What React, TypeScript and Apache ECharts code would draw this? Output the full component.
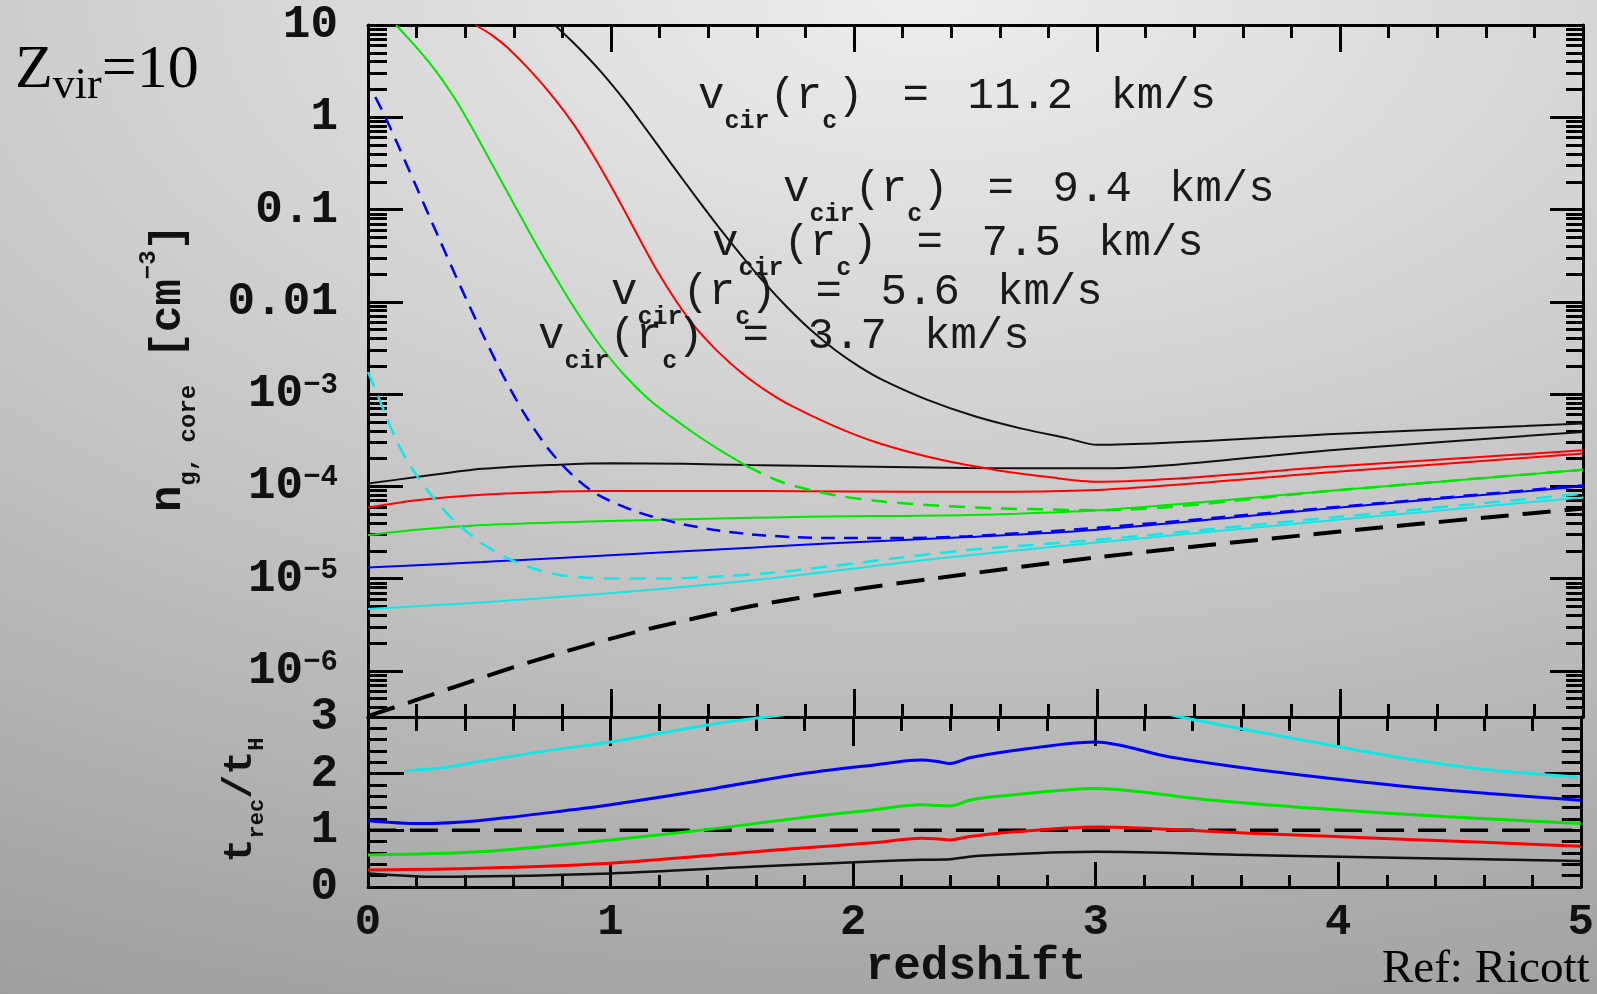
import React, { useEffect, useRef } from "react";
import * as echarts from "echarts";

// ---------------- tick labels ----------------
const REDSHIFT_LABELS = ["0", "1", "2", "3", "4", "5"];
const LOG_N_MAJOR = [-6, -5, -4, -3, -2, -1, 0, 1];
const LOG_N_LABELS = ["10{sup|−6}", "10{sup|−5}", "10{sup|−4}", "10{sup|−3}", "0.01", "0.1", "1", "10"];
const TREC_LABELS = ["0", "1", "2", "3"];

// ---------------- upper panel: log10 n_g,core [cm^-3] vs redshift ----------------
// v_cir = 11.2 km/s
const zBlackHi = [0.768, 0.86, 0.96, 1.06, 1.153, 1.25, 1.345, 1.44, 1.537, 1.63, 1.729, 1.82, 1.921, 2.02, 2.113, 2.3, 2.497, 2.7, 2.88, 3.0, 4.0, 5.0];
const logBlackHi = [1.0, 0.77, 0.49, 0.17, -0.16, -0.51, -0.85, -1.18, -1.5, -1.79, -2.07, -2.3, -2.52, -2.7, -2.84, -3.06, -3.24, -3.38, -3.48, -3.55, -3.43, -3.32];
const zBlackLo = [0, 0.2, 0.47, 0.79, 1.0, 1.3, 1.575, 2.0, 2.47, 3.0, 4.0, 5.0];
const logBlackLo = [-3.97, -3.9, -3.81, -3.765, -3.75, -3.755, -3.77, -3.785, -3.8, -3.805, -3.6, -3.41];
// v_cir = 9.4 km/s
const zRedHi = [0.442, 0.51, 0.576, 0.67, 0.768, 0.85, 0.922, 0.99, 1.057, 1.12, 1.191, 1.27, 1.345, 1.44, 1.537, 1.63, 1.729, 1.921, 2.1, 2.354, 2.6, 2.8, 3.0, 4.0, 5.0];
const logRedHi = [1.0, 0.89, 0.75, 0.5, 0.2, -0.09, -0.39, -0.7, -1.02, -1.33, -1.67, -2.0, -2.27, -2.54, -2.77, -2.95, -3.11, -3.35, -3.53, -3.71, -3.83, -3.9, -3.95, -3.78, -3.61];
const zRedLo = [0, 0.2, 0.47, 0.945, 1.575, 2.0, 2.47, 3.0, 4.0, 5.0];
const logRedLo = [-4.23, -4.15, -4.09, -4.05, -4.05, -4.055, -4.06, -4.04, -3.84, -3.645];
// v_cir = 7.5 km/s
const zGreenHi = [0.115, 0.192, 0.25, 0.307, 0.365, 0.423, 0.48, 0.538, 0.586, 0.634, 0.68, 0.73, 0.78, 0.826, 0.89, 0.96, 1.05, 1.153, 1.25, 1.345, 1.45, 1.559];
const logGreenHi = [1.0, 0.78, 0.6, 0.4, 0.17, -0.09, -0.36, -0.64, -0.87, -1.1, -1.32, -1.55, -1.77, -1.97, -2.23, -2.49, -2.78, -3.05, -3.25, -3.43, -3.61, -3.78];
const zGreenHiDash = [1.559, 1.7, 1.89, 2.1, 2.354, 2.6, 2.8, 3.0, 4.0, 5.0];
const logGreenHiDash = [-3.78, -3.95, -4.08, -4.16, -4.21, -4.24, -4.25, -4.26, -4.04, -3.82];
const zGreenLo = [0, 0.2, 0.47, 0.8, 1.26, 1.8, 2.47, 3.0, 4.0, 5.0];
const logGreenLo = [-4.53, -4.47, -4.42, -4.39, -4.36, -4.33, -4.31, -4.26, -4.04, -3.82];
// v_cir = 5.6 km/s
const zBlueDash = [0.03, 0.07, 0.12, 0.19, 0.29, 0.38, 0.47, 0.56, 0.65, 0.75, 0.85, 0.945, 1.1, 1.26, 1.42, 1.575, 1.75, 1.9, 2.2, 2.47, 3.0, 4.0, 5.0];
const logBlueDash = [0.22, 0.01, -0.28, -0.7, -1.3, -1.83, -2.34, -2.82, -3.24, -3.62, -3.9, -4.09, -4.27, -4.39, -4.47, -4.52, -4.55, -4.56, -4.56, -4.54, -4.45, -4.22, -3.99];
const zBlueLo = [0, 0.47, 1.26, 1.89, 2.47, 3.0, 4.0, 5.0];
const logBlueLo = [-4.88, -4.82, -4.71, -4.62, -4.55, -4.47, -4.23, -4.0];
// v_cir = 3.7 km/s
const zCyanDash = [0, 0.035, 0.071, 0.11, 0.152, 0.205, 0.28, 0.362, 0.47, 0.583, 0.68, 0.787, 0.9, 1.02, 1.2, 1.42, 1.65, 1.89, 2.2, 2.47, 3.0, 4.0, 5.0];
const logCyanDash = [-2.76, -2.98, -3.22, -3.46, -3.68, -3.9, -4.16, -4.39, -4.62, -4.79, -4.89, -4.96, -4.99, -5.0, -5.0, -4.98, -4.94, -4.87, -4.77, -4.69, -4.58, -4.33, -4.08];
const zCyanLo = [0, 0.787, 1.575, 2.354, 3.0, 4.0, 5.0];
const logCyanLo = [-5.33, -5.2, -5.02, -4.78, -4.61, -4.36, -4.12];
// mean density (long dashed)
const zMeanDash = [0, 0.205, 0.394, 0.6, 0.787, 1.0, 1.18, 1.575, 1.97, 2.354, 3.0, 4.0, 5.0];
const logMeanDash = [-6.49, -6.31, -6.14, -5.96, -5.81, -5.65, -5.53, -5.3, -5.13, -4.99, -4.77, -4.49, -4.24];

// ---------------- lower panel: t_rec / t_H vs redshift ----------------
const zCyanB = [0.152, 0.3, 0.455, 0.7, 1.0, 1.2, 1.4, 1.6, 1.8, 2.2, 2.6, 3.0, 3.34, 3.629, 3.958, 4.287, 4.616, 4.986];
const tCyanB = [2.05, 2.1, 2.21, 2.38, 2.56, 2.71, 2.86, 2.98, 3.08, 3.2, 3.28, 3.36, 3.01, 2.77, 2.51, 2.26, 2.07, 1.94];
const zBlueB = [0, 0.21, 0.455, 0.78, 1.0, 1.43, 1.76, 2.08, 2.28, 2.34, 2.4, 2.48, 2.6, 3.0, 3.3, 3.63, 3.96, 4.29, 4.62, 5.0];
const tBlueB = [1.17, 1.12, 1.17, 1.33, 1.45, 1.74, 1.98, 2.15, 2.24, 2.22, 2.18, 2.28, 2.37, 2.56, 2.3, 2.09, 1.92, 1.77, 1.65, 1.53];
const zGreenB = [0, 0.455, 1.0, 1.43, 1.76, 2.08, 2.28, 2.34, 2.4, 2.48, 2.6, 3.0, 3.47, 3.96, 4.45, 5.0];
const tGreenB = [0.565, 0.62, 0.83, 1.03, 1.21, 1.36, 1.45, 1.44, 1.43, 1.53, 1.6, 1.74, 1.535, 1.37, 1.24, 1.12];
const zRedB = [0, 0.455, 1.0, 1.43, 1.76, 2.08, 2.28, 2.34, 2.4, 2.48, 2.6, 3.0, 3.63, 4.29, 5.0];
const tRedB = [0.3, 0.33, 0.42, 0.565, 0.68, 0.78, 0.86, 0.85, 0.83, 0.89, 0.95, 1.06, 0.95, 0.84, 0.72];
const zBlackB = [0, 0.29, 1.0, 1.6, 2.08, 2.28, 2.4, 2.52, 3.0, 3.63, 4.29, 5.0];
const tBlackB = [0.24, 0.18, 0.24, 0.36, 0.45, 0.48, 0.49, 0.55, 0.62, 0.565, 0.51, 0.46];
const zUnity = [0, 5];
const tUnity = [1, 1];

// ---------------- annotations ----------------
const VCIR_LABELS = ["11.2", "9.4", "7.5", "5.6", "3.7"];

const MONO = '"Liberation Mono", "DejaVu Sans Mono", monospace';
const SERIF = '"Liberation Serif", "DejaVu Serif", serif';
const INK = "#111";

const RED = "#ff0000";
const GREEN = "#00e600";
const BLUE = "#0000ff";
const CYAN = "#14e6e6";
const BLACK = "#111111";

function pairs(xs: number[], ys: number[]) {
  return xs.map((x, i) => [x, ys[i]]);
}

function buildOption() {
  const minorLog: number[] = [];
  for (let d = -7; d <= 0; d++) {
    for (let k = 2; k <= 9; k++) {
      const v = d + Math.log10(k);
      if (v > -6.5 && v < 1) minorLog.push(v);
    }
  }
  const axLine = { show: true, onZero: false, lineStyle: { color: "#000", width: 3 } };
  const tickStyle = { color: "#000", width: 3 };
  const labelBase = {
    fontFamily: MONO,
    fontWeight: "bold" as const,
    fontSize: 46,
    color: INK,
  };

  const xAx = (gridIndex: number, position: string, major: number, minor: number, showLabel: boolean) => ({
    type: "value",
    gridIndex,
    position,
    min: 0,
    max: 5,
    interval: 1,
    axisLine: axLine,
    axisTick: { show: true, inside: true, length: major, lineStyle: tickStyle },
    minorTick: { show: true, splitNumber: 5, length: minor, lineStyle: tickStyle },
    splitLine: { show: false },
    minorSplitLine: { show: false },
    axisLabel: showLabel
      ? { ...labelBase, fontSize: 44, margin: 13, formatter: (v: number) => REDSHIFT_LABELS[Math.round(v)] ?? "" }
      : { show: false },
  });

  const logAx = (position: string, ticks: number[], len: number, showLabel: boolean, showLine: boolean) => ({
    type: "value",
    gridIndex: 0,
    position,
    min: -6.5,
    max: 1,
    interval: 0.5,
    axisLine: showLine ? axLine : { show: false, onZero: false },
    axisTick: { show: true, inside: true, length: len, customValues: ticks, lineStyle: tickStyle },
    splitLine: { show: false },
    axisLabel: showLabel
      ? {
          ...labelBase,
          lineHeight: 46,
          margin: 30,
          customValues: LOG_N_MAJOR,
          formatter: (v: number) => {
            const i = LOG_N_MAJOR.indexOf(Math.round(v));
            return i >= 0 ? LOG_N_LABELS[i] : "";
          },
          rich: {
            sup: {
              fontFamily: MONO,
              fontWeight: "bold",
              fontSize: 29,
              lineHeight: 29,
              verticalAlign: "top",
              color: INK,
            },
          },
        }
      : { show: false },
  });

  const tAx = (position: string, showLabel: boolean) => ({
    type: "value",
    gridIndex: 1,
    position,
    min: 0,
    max: 3,
    interval: 1,
    axisLine: axLine,
    axisTick: { show: true, inside: true, length: 36, lineStyle: tickStyle },
    minorTick: { show: true, splitNumber: 5, length: 19, lineStyle: tickStyle },
    splitLine: { show: false },
    minorSplitLine: { show: false },
    axisLabel: showLabel
      ? { ...labelBase, margin: 30, formatter: (v: number) => TREC_LABELS[Math.round(v)] ?? "" }
      : { show: false },
  });

  const line = (
    xs: number[],
    ys: number[],
    color: string,
    width: number,
    type: any,
    lower: boolean
  ) => ({
    type: "line",
    xAxisIndex: lower ? 2 : 0,
    yAxisIndex: lower ? 4 : 0,
    data: pairs(xs, ys),
    showSymbol: false,
    symbol: "none",
    smooth: 0.3,
    clip: true,
    silent: true,
    lineStyle: { color, width, type },
    z: 3,
  });

  const annRich = {
    m: { fontFamily: MONO, fontSize: 44, lineHeight: 60, verticalAlign: "top", fill: "#1a1a1a", color: "#1a1a1a" },
    s: { fontFamily: MONO, fontWeight: "bold", fontSize: 25, lineHeight: 32, verticalAlign: "bottom", fill: "#1a1a1a", color: "#1a1a1a" },
    eq: { fontFamily: MONO, fontSize: 44, lineHeight: 60, verticalAlign: "top", width: 104, align: "center", fill: "#1a1a1a", color: "#1a1a1a" },
    u: { fontFamily: MONO, fontSize: 44, lineHeight: 60, verticalAlign: "top", width: 180, align: "center", fill: "#1a1a1a", color: "#1a1a1a" },
  };
  const annPos = [
    [698, 104],
    [783, 197],
    [712, 251],
    [611, 300],
    [538, 344],
  ];
  const annotations = VCIR_LABELS.map((v, i) => ({
    type: "text",
    x: annPos[i][0],
    y: annPos[i][1],
    z: 10,
    style: {
      text: `{m|v}{s|cir}{m|(r}{s|c}{m|)}{eq|=}{m|${v}}{u|km/s}`,
      rich: annRich,
      align: "left",
      verticalAlign: "middle",
      textAlign: "left",
      textVerticalAlign: "middle",
    },
  }));

  const titleRichN = {
    n: { fontFamily: MONO, fontWeight: "bold", fontSize: 44, lineHeight: 64, verticalAlign: "middle", fill: INK },
    sub: { fontFamily: MONO, fontWeight: "bold", fontSize: 24, lineHeight: 24, verticalAlign: "bottom", fill: INK },
    sup: { fontFamily: MONO, fontWeight: "bold", fontSize: 24, lineHeight: 44, verticalAlign: "top", fill: INK },
  };
  const titleRichT = {
    t: { fontFamily: MONO, fontWeight: "bold", fontSize: 40, lineHeight: 56, verticalAlign: "middle", fill: INK },
    sub: { fontFamily: MONO, fontWeight: "bold", fontSize: 22, lineHeight: 22, verticalAlign: "bottom", fill: INK },
  };

  return {
    animation: false,
    backgroundColor: "transparent",
    textStyle: { fontFamily: MONO },
    grid: [
      { left: 368, top: 25, width: 1215, height: 692, containLabel: false },
      { left: 368, top: 717, width: 1215, height: 170, containLabel: false },
    ],
    xAxis: [
      xAx(0, "bottom", 28, 13, false),
      xAx(0, "top", 27, 13, false),
      xAx(1, "bottom", 25, 12, true),
      xAx(1, "top", 29, 14, false),
    ],
    yAxis: [
      logAx("left", LOG_N_MAJOR, 35, true, true),
      logAx("left", minorLog, 19, false, false),
      logAx("right", LOG_N_MAJOR, 33, false, true),
      logAx("right", minorLog, 17, false, false),
      tAx("left", true),
      tAx("right", false),
    ],
    series: [
      line(zBlackHi, logBlackHi, BLACK, 2, "solid", false),
      line(zBlackLo, logBlackLo, BLACK, 2, "solid", false),
      line(zRedHi, logRedHi, RED, 2, "solid", false),
      line(zRedLo, logRedLo, RED, 2, "solid", false),
      line(zGreenHi, logGreenHi, GREEN, 2, "solid", false),
      line(zGreenHiDash, logGreenHiDash, GREEN, 2.5, [16, 10], false),
      line(zGreenLo, logGreenLo, GREEN, 2, "solid", false),
      line(zBlueLo, logBlueLo, BLUE, 2, "solid", false),
      line(zBlueDash, logBlueDash, BLUE, 2.5, [14, 9], false),
      line(zCyanLo, logCyanLo, CYAN, 2, "solid", false),
      line(zCyanDash, logCyanDash, CYAN, 2.5, [16, 10], false),
      line(zMeanDash, logMeanDash, "#000", 4, [28, 14], false),

      line(zUnity, tUnity, "#000", 3.5, [28, 14], true),
      line(zCyanB, tCyanB, CYAN, 3, "solid", true),
      line(zBlueB, tBlueB, BLUE, 3, "solid", true),
      line(zGreenB, tGreenB, GREEN, 3, "solid", true),
      line(zRedB, tRedB, RED, 3, "solid", true),
      line(zBlackB, tBlackB, BLACK, 2.5, "solid", true),
    ],
    graphic: [
      ...annotations,
      {
        type: "text",
        x: 15,
        y: 70,
        style: {
          text: "{Z|Z}{v|vir}{Z|=10}",
          rich: {
            Z: { fontFamily: SERIF, fontSize: 62, lineHeight: 70, verticalAlign: "top", fill: "#000" },
            v: { fontFamily: SERIF, fontSize: 44, lineHeight: 33, verticalAlign: "bottom", fill: "#000" },
          },
          align: "left",
          verticalAlign: "middle",
          textAlign: "left",
          textVerticalAlign: "middle",
        },
      },
      {
        type: "text",
        x: 1382,
        y: 966,
        style: {
          text: "Ref: Ricott",
          fontFamily: SERIF,
          fontSize: 47,
          lineHeight: 40,
          fill: "#000",
          align: "left",
          verticalAlign: "middle",
          textAlign: "left",
          textVerticalAlign: "middle",
        },
      },
      {
        type: "text",
        x: 976,
        y: 967,
        style: {
          text: "redshift",
          fontFamily: MONO,
          fontWeight: "bold",
          fontSize: 46,
          lineHeight: 36,
          fill: INK,
          align: "center",
          verticalAlign: "middle",
          textAlign: "center",
          textVerticalAlign: "middle",
        },
      },
      {
        type: "text",
        x: 168,
        y: 368,
        rotation: Math.PI / 2,
        style: {
          text: "{n|n}{sub|g, core}{n| [cm}{sup|−3}{n|]}",
          rich: titleRichN,
          align: "center",
          verticalAlign: "middle",
          textAlign: "center",
          textVerticalAlign: "middle",
        },
      },
      {
        type: "text",
        x: 240,
        y: 800,
        rotation: Math.PI / 2,
        style: {
          text: "{t|t}{sub|rec}{t|/t}{sub|H}",
          rich: titleRichT,
          align: "center",
          verticalAlign: "middle",
          textAlign: "center",
          textVerticalAlign: "middle",
        },
      },
    ],
  };
}

export default function App() {
  const ref = useRef<HTMLDivElement>(null);
  useEffect(() => {
    if (!ref.current) return;
    const chart = echarts.init(ref.current, undefined, { renderer: "svg", width: 1597, height: 994 });
    chart.setOption(buildOption() as any);
    return () => chart.dispose();
  }, []);
  return (
    <div
      style={{
        position: "fixed",
        left: 0,
        top: 0,
        width: 1597,
        height: 994,
        background:
          "radial-gradient(ellipse 2200px 1150px at 58% 0%, #ededed 0%, #d4d4d4 33%, #b6b6b6 68%, #9a9a9a 100%)",
      }}
    >
      <div ref={ref} style={{ width: 1597, height: 994 }} />
    </div>
  );
}
